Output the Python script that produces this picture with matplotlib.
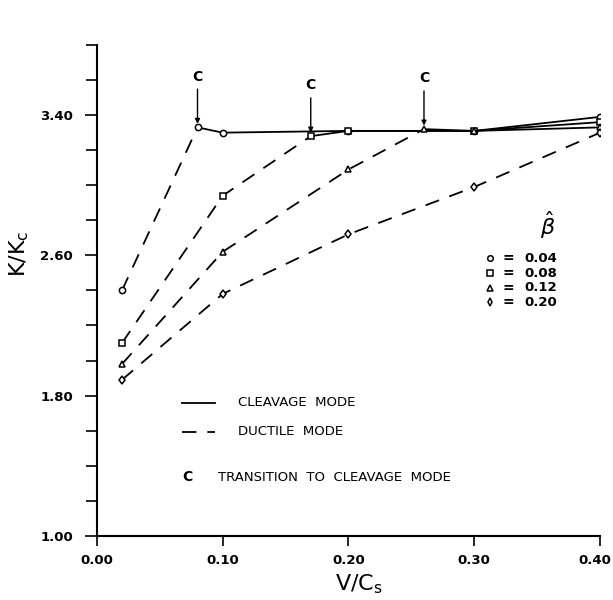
import numpy as np
import matplotlib.pyplot as plt
from matplotlib.transforms import ScaledTranslation

plt.rcParams['font.family'] = ['DejaVu Sans']

# V/Cs values and K/Kc for each beta-hat
x_004 = [0.02, 0.08, 0.10, 0.20, 0.30, 0.40]
y_004 = [2.40, 3.33, 3.30, 3.31, 3.31, 3.39]
x_008 = [0.02, 0.10, 0.17, 0.20, 0.30, 0.40]
y_008 = [2.10, 2.94, 3.28, 3.31, 3.31, 3.36]
x_012 = [0.02, 0.10, 0.20, 0.26, 0.30, 0.40]
y_012 = [1.98, 2.62, 3.09, 3.32, 3.31, 3.33]
x_020 = [0.02, 0.10, 0.20, 0.30, 0.40]
y_020 = [1.89, 2.38, 2.72, 2.99, 3.30]
# index of point where transition to cleavage mode happens (None = never)
trans_004 = 1
trans_008 = 2
trans_012 = 3
trans_020 = None

beta_labels = ['0.04', '0.08', '0.12', '0.20']
markers = ['o', 's', '^', 'd']

series = [(x_004, y_004, trans_004), (x_008, y_008, trans_008),
          (x_012, y_012, trans_012), (x_020, y_020, trans_020)]

fig = plt.figure(figsize=(6.13, 6.0), dpi=100)
ax = fig.add_axes([0.158, 0.107, 0.821, 0.818])

for (xs, ys, t), m in zip(series, markers):
    xs = np.array(xs)
    ys = np.array(ys)
    if t is None:
        ax.plot(xs, ys, c='k', lw=1.3, dashes=(8, 6))
    else:
        ax.plot(xs[:t + 1], ys[:t + 1], c='k', lw=1.3, dashes=(8, 6))
        ax.plot(xs[t:], ys[t:], c='k', lw=1.3)
        # "C" mark with arrow at the transition
        ax.annotate('C', xy=(xs[t], ys[t] + 0.02), xytext=(xs[t], ys[t] + 0.25),
                    ha='center', va='bottom', fontsize=10, fontweight='bold',
                    arrowprops=dict(arrowstyle='-|>', color='k', lw=1.0,
                                    mutation_scale=7, shrinkA=2, shrinkB=0))
    ax.plot(xs, ys, ls='none', marker=m, ms=4.5, mfc='white', mec='k', mew=1.1)

ax.set_xlim(0.0, 0.40)
ax.set_ylim(1.0, 3.8)
ax.set_xticks([0.0, 0.1, 0.2, 0.3, 0.4])
ax.set_xticklabels(['0.00', '0.10', '0.20', '0.30', '0.40'])
ax.set_yticks([1.0, 1.8, 2.6, 3.4])
ax.set_yticklabels(['1.00', '1.80', '2.60', '3.40'])
ax.set_yticks(np.arange(1.0, 3.81, 0.2), minor=True)
ax.tick_params(axis='both', labelsize=9.5, width=1.2, length=9, direction='out')
ax.tick_params(axis='y', which='major', pad=8)
ax.tick_params(axis='y', which='minor', width=1.2, length=8)
ax.tick_params(axis='x', length=7, pad=6)
for lab in ax.get_xticklabels() + ax.get_yticklabels():
    lab.set_fontweight('bold')
# last x label sits a bit left so it stays inside the figure
last = ax.get_xticklabels()[-1]
last.set_transform(last.get_transform() + ScaledTranslation(-4 / 72, 0, fig.dpi_scale_trans))
ax.spines['right'].set_visible(False)
ax.spines['top'].set_visible(False)
ax.spines['left'].set_linewidth(1.5)
ax.spines['bottom'].set_linewidth(1.5)
ax.set_xlabel('V/C$_\\mathregular{s}$', fontsize=16)
ax.set_ylabel('K/K$_\\mathregular{c}$', fontsize=16)
ax.xaxis.set_label_coords(0.52, -0.075)
ax.yaxis.set_label_coords(-0.13, 0.575)

# beta-hat key
ax.text(0.358, 2.77, r'$\hat{\beta}$', fontsize=16, ha='center', va='center')
for i, (lab, m) in enumerate(zip(beta_labels, markers)):
    yy = 2.583 - i * 0.084
    ax.plot([0.3125], [yy], ls='none', marker=m, ms=4, mfc='white', mec='k', mew=1.1)
    ax.text(0.327, yy, '=', fontsize=10, ha='center', va='center', fontweight='bold')
    ax.text(0.340, yy, lab, fontsize=9.5, ha='left', va='center', fontweight='bold')

# mode key
ax.plot([0.068, 0.094], [1.76, 1.76], c='k', lw=1.3)
ax.text(0.112, 1.76, 'CLEAVAGE  MODE', fontsize=9.5, va='center')
ax.plot([0.068, 0.094], [1.593, 1.593], c='k', lw=1.3, dashes=(8, 6))
ax.text(0.112, 1.593, 'DUCTILE  MODE', fontsize=9.5, va='center')
ax.text(0.068, 1.335, 'C', fontsize=10, va='center', fontweight='bold')
ax.text(0.096, 1.335, 'TRANSITION  TO  CLEAVAGE  MODE', fontsize=9.5, va='center')

plt.savefig('out.png', dpi=100)
